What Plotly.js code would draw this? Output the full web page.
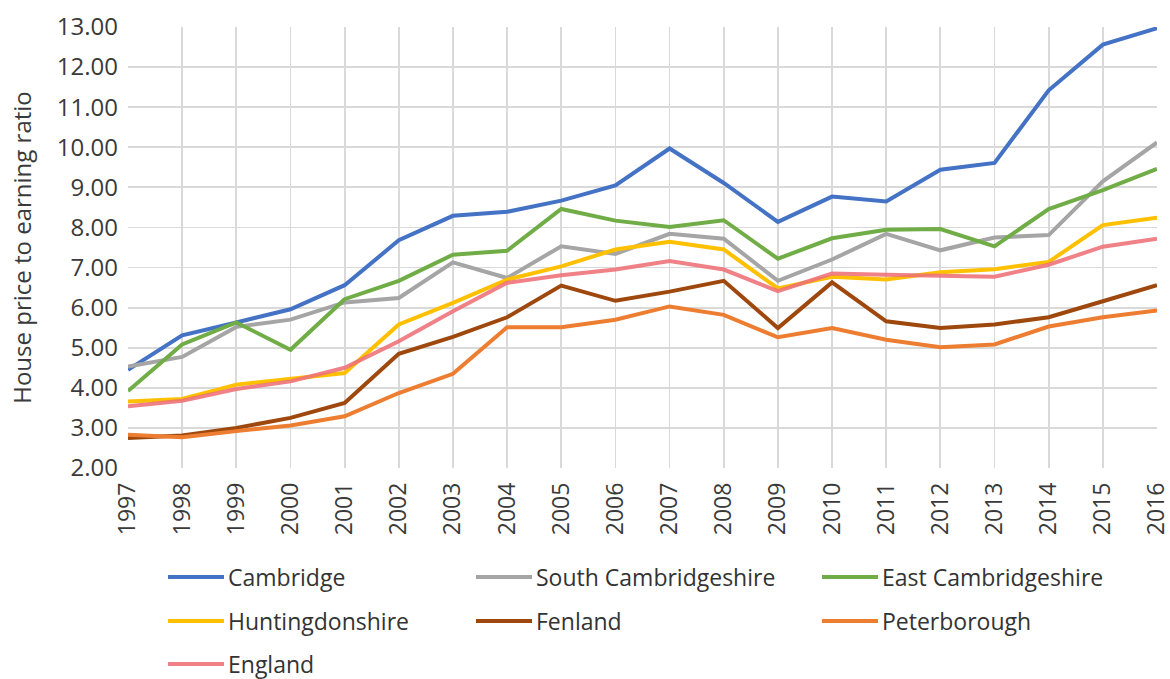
<!DOCTYPE html>
<html>
<head>
<meta charset="utf-8">
<script src="https://cdn.plot.ly/plotly-3.0.1.min.js"></script>
<style>html,body{margin:0;padding:0;background:#fff;}#chart{width:1170px;height:679px;}</style>
</head>
<body>
<div id="chart"></div>
<script>
const years = [1997,1998,1999,2000,2001,2002,2003,2004,2005,2006,2007,2008,2009,2010,2011,2012,2013,2014,2015,2016];
const cambridge      = [4.45,5.31,5.63,5.96,6.56,7.68,8.29,8.39,8.67,9.05,9.97,9.11,8.14,8.77,8.65,9.44,9.61,11.42,12.56,12.97];
const southCambs     = [4.53,4.77,5.52,5.70,6.13,6.24,7.13,6.74,7.53,7.34,7.84,7.72,6.67,7.20,7.84,7.43,7.75,7.81,9.15,10.12];
const eastCambs      = [3.92,5.08,5.63,4.95,6.21,6.67,7.32,7.42,8.46,8.17,8.01,8.18,7.22,7.73,7.94,7.96,7.53,8.46,8.93,9.46];
const huntingdonshire= [3.66,3.72,4.08,4.23,4.37,5.58,6.12,6.70,7.03,7.45,7.64,7.45,6.48,6.77,6.70,6.88,6.96,7.14,8.06,8.24];
const fenland        = [2.75,2.81,3.00,3.25,3.62,4.85,5.27,5.76,6.55,6.17,6.40,6.67,5.49,6.63,5.66,5.49,5.58,5.76,6.16,6.56];
const peterborough   = [2.83,2.77,2.92,3.06,3.29,3.87,4.35,5.51,5.51,5.70,6.03,5.82,5.26,5.49,5.20,5.01,5.08,5.53,5.76,5.93];
const england        = [3.54,3.68,3.97,4.16,4.50,5.16,5.91,6.62,6.81,6.95,7.16,6.95,6.41,6.85,6.82,6.80,6.77,7.07,7.52,7.72];

const seriesNames  = ["Cambridge","South Cambridgeshire","East Cambridgeshire","Huntingdonshire","Fenland","Peterborough","England"];
const seriesValues = [cambridge, southCambs, eastCambs, huntingdonshire, fenland, peterborough, england];
const seriesColors = ["#4472C4","#A5A5A5","#70AD47","#FFC000","#9E480E","#ED7D31","rgba(237,112,118,0.88)"];

const yTickVals = [2,3,4,5,6,7,8,9,10,11,12,13];

const traces = seriesNames.map((n,i)=>({
  type:'scatter', mode:'lines', name:n, x:years, y:seriesValues[i],
  line:{color:seriesColors[i], width:4}, showlegend:false, hoverinfo:'x+y+name'
}));

// custom legend laid out in 3 columns (pixel positions converted to paper coords)
const plotL = 128, plotR = 1157, plotT = 27, plotB = 468;
const pw = plotR - plotL, ph = plotB - plotT;
const colX = [168, 476, 822];
const rowY = [577, 621, 664];
const shapes = [], annotations = [];
seriesNames.forEach((n,i)=>{
  const c = i % 3, r = Math.floor(i/3);
  const x0 = (colX[c]-plotL)/pw, x1 = (colX[c]+56-plotL)/pw;
  const y = (plotB-rowY[r])/ph;
  shapes.push({type:'line', xref:'paper', yref:'paper', x0:x0, x1:x1, y0:y, y1:y,
    line:{color:seriesColors[i], width:4}});
  annotations.push({xref:'paper', yref:'paper', x:(colX[c]+58-plotL)/pw, y:y,
    xanchor:'left', yanchor:'middle', showarrow:false, text:n,
    font:{family:'Open Sans', size:23, color:'#333333'}});
});

const tickFont = {family:'Open Sans', size:24, color:'#3a3a3a'};
const layout = {
  width:1170, height:679,
  margin:{l:plotL, r:1170-plotR, t:plotT, b:679-plotB},
  paper_bgcolor:'#ffffff', plot_bgcolor:'#ffffff',
  font:{family:'Open Sans', size:24, color:'#3a3a3a'},
  xaxis:{
    range:[1997,2016], tickmode:'array', tickvals:years, ticktext:years.map(String),
    tickangle:-90, showgrid:true, gridcolor:'#D9D9D9', gridwidth:1.8,
    zeroline:false, showline:false, ticks:'', ticklabelstandoff:9, ticklabeloverflow:'allow',
    tickfont:{family:'Open Sans', size:23, color:'#3a3a3a'}, fixedrange:true
  },
  yaxis:{
    range:[2,13], tickmode:'array', tickvals:yTickVals, ticktext:yTickVals.map(v=>v.toFixed(2)),
    showgrid:true, gridcolor:'#D9D9D9', gridwidth:1.8, zeroline:false, showline:false, ticks:'',
    ticklabelstandoff:9,
    tickfont:tickFont,
    title:{text:'House price to earning ratio', standoff:18, font:{family:'Open Sans', size:24, color:'#3a3a3a'}},
    fixedrange:true
  },
  shapes:shapes, annotations:annotations, showlegend:false
};

Plotly.newPlot('chart', traces, layout, {displayModeBar:false, staticPlot:true});
</script>
</body>
</html>
